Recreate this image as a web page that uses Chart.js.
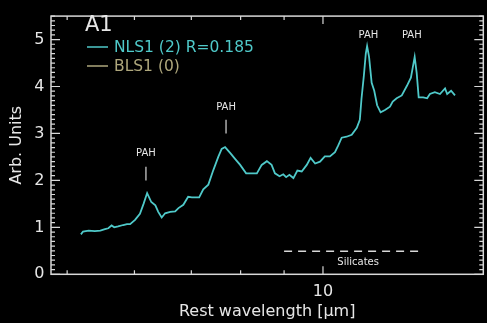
<!DOCTYPE html>
<html>
<head>
<meta charset="utf-8">
<script src="https://cdn.jsdelivr.net/npm/chart.js@4.4.1/dist/chart.umd.min.js"></script>
<style>
html, body { margin: 0; padding: 0; background: #000; }
canvas { display: block; }
</style>
</head>
<body>
<canvas id="Chart" width="487" height="323"></canvas>
<script>
// spectre NLS1
const wavelength = [5.19,5.22,5.30,5.39,5.47,5.54,5.59,5.64,5.68,5.74,5.82,5.88,5.93,6.01,6.09,6.15,6.21,6.28,6.35,6.40,
    6.46,6.52,6.61,6.70,6.76,6.85,6.94,7.01,7.15,7.23,7.33,7.43,7.53,7.60,7.67,7.78,7.88,7.99,8.12,8.36,
    8.47,8.59,8.70,8.78,8.89,8.98,9.05,9.13,9.23,9.33,9.44,9.57,9.67,9.79,9.92,10.05,10.19,10.33,10.42,10.52,
    10.66,10.81,10.96,11.05,11.10,11.17,11.23,11.27,11.33,11.41,11.49,11.58,11.69,11.83,11.99,12.08,12.21,12.38,12.55,12.69,
    12.75,12.82,12.89,12.96,13.12,13.26,13.36,13.54,13.73,13.92,14.00,14.15,14.30];
const flux = [0.85,0.91,0.93,0.92,0.93,0.96,0.98,1.04,1.00,1.02,1.05,1.07,1.07,1.16,1.29,1.50,1.73,1.54,1.47,1.33,
    1.21,1.30,1.33,1.34,1.41,1.48,1.65,1.64,1.64,1.81,1.91,2.22,2.50,2.67,2.71,2.58,2.46,2.33,2.15,2.15,
    2.33,2.41,2.33,2.15,2.09,2.13,2.07,2.12,2.05,2.21,2.19,2.33,2.48,2.36,2.40,2.51,2.51,2.60,2.74,2.91,
    2.93,2.97,3.12,3.29,3.74,4.22,4.70,4.86,4.63,4.08,3.91,3.60,3.45,3.50,3.57,3.68,3.75,3.81,4.01,4.19,
    4.39,4.63,4.29,3.77,3.77,3.75,3.84,3.88,3.84,3.96,3.84,3.91,3.81];

const yTicks = [0, 1, 2, 3, 4, 5];
const xTicks = [10];
const xMinorTicks = [5, 6, 7, 8, 9];

// annotations PAH
const pahX = [6.19, 7.69, 11.31, 12.72];
const pahY = [2.57, 3.56, 5.08, 5.08];
const pahMarkTop = [2.29, 3.29, null, null];
const pahMarkBottom = [2.00, 3.00, null, null];
const silicateX = [9.0, 13.04];
const silicateY = 0.49;
const silicateLabelX = 11.0;
const silicateLabelY = 0.25;

const legendNames = ['NLS1 (2) R=0.185', 'BLS1 (0)'];
const legendColors = ['#4fc9c9', '#aea77c'];

const axisColor = '#d8d8d8';
const textColor = '#e6e6e6';
const font = 'DejaVu Sans';

const decor = {
    id: 'decor',
    afterDraw(chart) {
        const ctx = chart.ctx;
        const a = chart.chartArea;
        const xs = chart.scales.x;
        const ys = chart.scales.y;
        ctx.save();
        ctx.strokeStyle = axisColor;
        ctx.lineWidth = 1.5;
        ctx.strokeRect(a.left, a.top, a.right - a.left, a.bottom - a.top);

        // ticks y (gauche et droite, vers l'intérieur)
        ctx.lineWidth = 1.2;
        for (let i = 0; i <= 55; i++) {
            const v = i / 10;
            const py = ys.getPixelForValue(v);
            const len = (i % 10 === 0) ? 9 : 4;
            ctx.beginPath();
            ctx.moveTo(a.left, py); ctx.lineTo(a.left + len, py);
            ctx.moveTo(a.right, py); ctx.lineTo(a.right - len, py);
            ctx.stroke();
        }
        // ticks x (bas et haut)
        const xt = xMinorTicks.map(v => [v, 4]).concat(xTicks.map(v => [v, 8]));
        xt.forEach(([v, len]) => {
            const px = xs.getPixelForValue(v);
            ctx.beginPath();
            ctx.moveTo(px, a.bottom); ctx.lineTo(px, a.bottom - len);
            ctx.moveTo(px, a.top); ctx.lineTo(px, a.top + len);
            ctx.stroke();
        });

        // PAH
        ctx.fillStyle = textColor;
        ctx.font = '10px ' + font;
        ctx.textAlign = 'center';
        ctx.textBaseline = 'middle';
        for (let i = 0; i < pahX.length; i++) {
            const px = xs.getPixelForValue(pahX[i]);
            ctx.fillText('PAH', px, ys.getPixelForValue(pahY[i]));
            if (pahMarkTop[i] !== null) {
                ctx.beginPath();
                ctx.moveTo(px, ys.getPixelForValue(pahMarkTop[i]));
                ctx.lineTo(px, ys.getPixelForValue(pahMarkBottom[i]));
                ctx.stroke();
            }
        }
        // silicates
        ctx.setLineDash([8, 6]);
        ctx.lineWidth = 1.5;
        ctx.beginPath();
        ctx.moveTo(xs.getPixelForValue(silicateX[0]), ys.getPixelForValue(silicateY));
        ctx.lineTo(xs.getPixelForValue(silicateX[1]), ys.getPixelForValue(silicateY));
        ctx.stroke();
        ctx.setLineDash([]);
        ctx.fillText('Silicates', xs.getPixelForValue(silicateLabelX), ys.getPixelForValue(silicateLabelY));

        // titre et légende
        ctx.textAlign = 'left';
        ctx.font = '21px ' + font;
        ctx.fillText('A1', 85, 26);
        ctx.font = '15.5px ' + font;
        for (let i = 0; i < legendNames.length; i++) {
            const y = 47 + i * 19;
            ctx.strokeStyle = legendColors[i];
            ctx.lineWidth = 1.5;
            ctx.beginPath();
            ctx.moveTo(87, y); ctx.lineTo(108, y);
            ctx.stroke();
            ctx.fillStyle = legendColors[i];
            ctx.fillText(legendNames[i], 114, y + 1);
        }
        ctx.restore();
    }
};

const canvas = document.getElementById('Chart');
const ctx = canvas.getContext('2d');
const chart = new Chart(ctx, {
    type: 'line',
    data: {
        datasets: [{
            label: legendNames[0],
            data: wavelength.map((w, i) => ({ x: w, y: flux[i] })),
            borderColor: legendColors[0],
            borderWidth: 1.8,
            pointRadius: 0,
            fill: false
        }]
    },
    options: {
        responsive: false,
        animation: false,
        layout: { padding: { top: 7.5, right: 3.7, left: 0, bottom: 0 } },
        plugins: { legend: { display: false }, tooltip: { enabled: false } },
        scales: {
            x: {
                type: 'logarithmic',
                min: 4.786,
                max: 15.44,
                grid: { display: false, drawTicks: false },
                border: { display: false },
                afterBuildTicks: s => { s.ticks = xTicks.map(v => ({ value: v })); },
                afterFit: s => { s.height = 48.7; },
                ticks: {
                    color: textColor,
                    font: { family: font, size: 16 },
                    padding: 8,
                    maxRotation: 0,
                    autoSkip: false,
                    callback: v => String(v)
                },
                title: {
                    display: true,
                    text: 'Rest wavelength [μm]',
                    color: textColor,
                    font: { family: font, size: 16 },
                    padding: { top: 0, bottom: 1.4 }
                }
            },
            y: {
                min: 0,
                max: 5.5,
                grid: { display: false, drawTicks: false },
                border: { display: false },
                afterBuildTicks: s => { s.ticks = yTicks.map(v => ({ value: v })); },
                afterFit: s => { s.width = 51; },
                ticks: {
                    color: textColor,
                    font: { family: font, size: 16 },
                    padding: 6.5
                },
                title: {
                    display: true,
                    text: 'Arb. Units',
                    color: textColor,
                    font: { family: font, size: 16 },
                    padding: { top: 7.7, bottom: 0 }
                }
            }
        }
    },
    plugins: [decor]
});
</script>
</body>
</html>
